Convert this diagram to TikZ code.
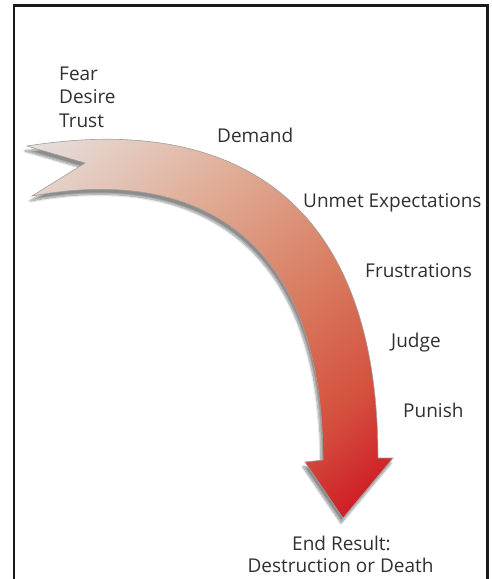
\documentclass[tikz,border=0pt]{standalone}
\usepackage{fontspec}
\setmainfont{Open Sans}
\usetikzlibrary{shadows.blur}
\definecolor{tailgray}{HTML}{E6E0DD}
\definecolor{demandpink}{HTML}{E0AE98}
\definecolor{frustorange}{HTML}{D8785C}
\definecolor{punishred}{HTML}{D44E3E}
\definecolor{tipred}{HTML}{CF1E26}
\definecolor{labelgray}{HTML}{303030}
\pgfdeclareverticalshading{arrowfade}{100bp}{color(0bp)=(tipred); color(19bp)=(tipred); color(29bp)=(punishred); color(43bp)=(frustorange); color(63bp)=(demandpink); color(82bp)=(tailgray); color(100bp)=(tailgray)}
\newcommand\StageLabel[4]{%
    \node[stagelabel] (#1) at (#2,#3) {#4};
}
\tikzset{
    stagelabel/.style={anchor=base west, inner sep=0pt, text=labelgray, font=\fontsize{19}{23.5}\selectfont},
    arrowbody/.style={shading=arrowfade, shading angle=40, draw=gray!75, line width=0.6pt,
        blur shadow={shadow xshift=-2pt, shadow yshift=-5pt, shadow blur steps=12, shadow opacity=45}},
    frame/.style={line width=2.6pt, color=black!90}
}

\begin{document}
\begin{tikzpicture}[x=1pt, y=-1pt]
    \useasboundingbox (0,0) rectangle (491,579);
    \draw[frame] (14,579) -- (14,5.3) -- (487.3,5.3) -- (487.3,579);
    \shade[arrowbody] (27,146) coordinate(tailtop)
        .. controls (240,112) and (378,205) .. (378,458) coordinate(shaftright)
        -- (393,458) coordinate(barbright)
        -- (343,518) coordinate(tip)
        -- (305,462) coordinate(barbleft)
        -- (323,460) coordinate(shaftleft)
        .. controls (323,240) and (200,165) .. (32,196) coordinate(tailbottom)
        -- (85,163) coordinate(notch)
        -- cycle;
    \StageLabel{fear}{59}{80}{Fear}
    \StageLabel{desire}{59}{103}{Desire}
    \StageLabel{trust}{59}{127}{Trust}
    \StageLabel{demand}{217}{142}{Demand}
    \StageLabel{unmet}{303}{207}{Unmet Expectations}
    \StageLabel{frustrations}{365}{277}{Frustrations}
    \StageLabel{judge}{391}{347}{Judge}
    \StageLabel{punish}{403}{417}{Punish}
    \node[stagelabel, anchor=base] (endresult) at (341.5,550) {End Result:};
    \node[stagelabel, anchor=base] (endfate) at (340.5,572) {Destruction or Death};
\end{tikzpicture}
\end{document}
